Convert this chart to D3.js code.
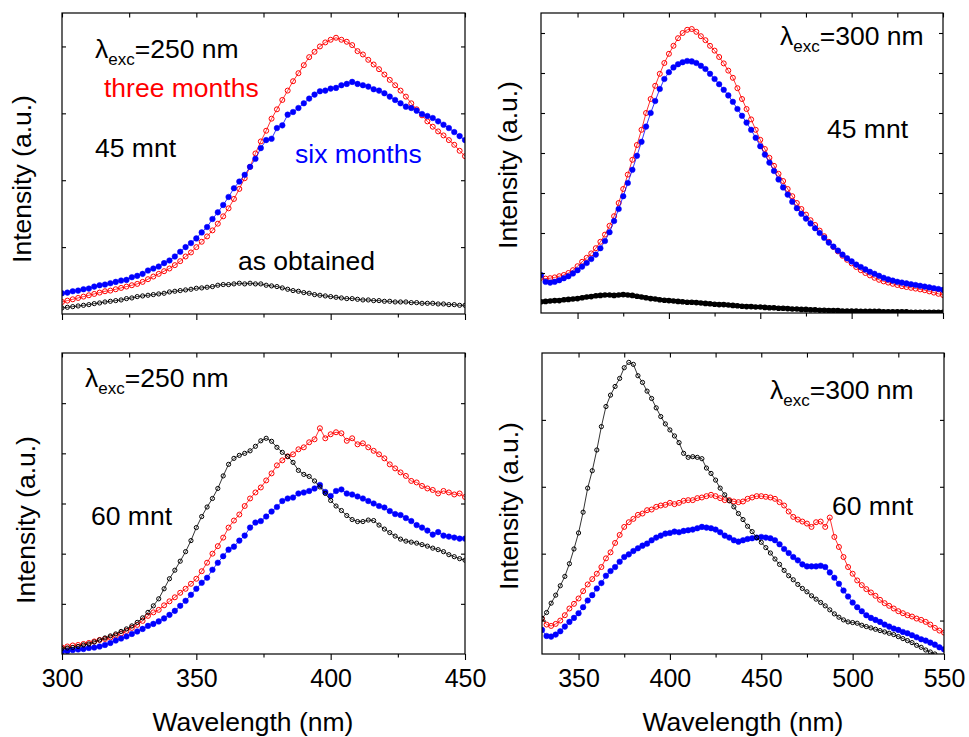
<!DOCTYPE html>
<html>
<head>
<meta charset="utf-8">
<script src="https://cdn.jsdelivr.net/npm/d3@7"></script>
<style>
  body { margin: 0; background: #fff; }
  svg { display: block; }
  text { font-family: "Liberation Sans", Arial, sans-serif; }
</style>
</head>
<body>
<svg id="chart" width="969" height="737"></svg>
<script>
// wavelength sampling of the spectra (nm)
const wlExc250 = d3.range(300, 450.01, 2)
const wlExc300 = d3.range(330, 550.01, 2.5)

// 45 min, λexc = 250 nm
const tl_obtained = [
  0.09,0.10,0.11,0.12,0.13,0.14,0.155,0.165,0.18,0.19,
  0.20,0.21,0.23,0.24,0.26,0.27,0.28,0.29,0.30,0.31,
  0.33,0.34,0.35,0.36,0.37,0.385,0.39,0.40,0.41,0.43,
  0.44,0.44,0.45,0.46,0.45,0.46,0.45,0.45,0.43,0.42,
  0.41,0.39,0.37,0.35,0.34,0.32,0.31,0.29,0.28,0.27,
  0.26,0.25,0.24,0.23,0.23,0.22,0.21,0.21,0.20,0.20,
  0.19,0.19,0.18,0.18,0.18,0.17,0.17,0.16,0.16,0.16,
  0.15,0.15,0.14,0.14,0.13,0.13]
const tl_three = [
  0.18,0.20,0.22,0.24,0.26,0.28,0.30,0.32,0.34,0.35,
  0.37,0.39,0.41,0.43,0.45,0.48,0.52,0.56,0.60,0.64,
  0.68,0.73,0.79,0.86,0.92,1.00,1.08,1.16,1.25,1.35,
  1.46,1.58,1.72,1.87,2.03,2.20,2.40,2.58,2.74,2.92,
  3.06,3.20,3.34,3.48,3.60,3.72,3.84,3.92,4.00,4.06,
  4.10,4.13,4.10,4.07,4.02,3.93,3.88,3.80,3.73,3.66,
  3.58,3.50,3.42,3.34,3.25,3.15,3.06,2.97,2.88,2.80,
  2.73,2.67,2.60,2.53,2.44,2.36]
const tl_six = [
  0.31,0.32,0.34,0.35,0.37,0.38,0.41,0.43,0.44,0.46,
  0.48,0.50,0.51,0.55,0.57,0.60,0.65,0.68,0.71,0.76,
  0.80,0.86,0.93,1.00,1.06,1.13,1.22,1.30,1.42,1.52,
  1.63,1.75,1.88,1.98,2.08,2.20,2.32,2.48,2.60,2.62,
  2.78,2.82,2.98,3.02,3.08,3.15,3.22,3.28,3.33,3.34,
  3.37,3.38,3.42,3.44,3.47,3.44,3.42,3.40,3.36,3.34,
  3.30,3.25,3.20,3.15,3.10,3.08,3.04,2.99,2.96,2.93,
  2.88,2.83,2.78,2.72,2.66,2.60]

// 45 min, λexc = 300 nm
const tr_obtained = [
  0.28,0.29,0.30,0.31,0.31,0.33,0.34,0.35,0.36,0.38,
  0.40,0.41,0.43,0.44,0.45,0.45,0.44,0.45,0.46,0.45,
  0.44,0.42,0.40,0.38,0.36,0.35,0.33,0.32,0.31,0.30,
  0.29,0.28,0.27,0.27,0.26,0.25,0.24,0.23,0.22,0.21,
  0.21,0.20,0.19,0.18,0.17,0.16,0.16,0.15,0.15,0.14,
  0.13,0.13,0.12,0.12,0.11,0.10,0.10,0.09,0.09,0.08,
  0.08,0.07,0.07,0.06,0.06,0.06,0.05,0.05,0.05,0.05,
  0.04,0.04,0.04,0.04,0.04,0.03,0.03,0.03,0.03,0.03,
  0.03,0.02,0.02,0.02,0.02,0.02,0.02,0.02,0.02]
const tr_three = [
  0.88,0.86,0.87,0.89,0.92,0.95,1.00,1.07,1.17,1.28,
  1.38,1.49,1.62,1.78,1.96,2.18,2.42,2.75,3.10,3.46,
  3.83,4.20,4.58,5.00,5.35,5.68,5.98,6.25,6.48,6.68,
  6.87,7.00,7.08,7.10,7.03,6.92,6.82,6.68,6.56,6.40,
  6.24,6.06,5.88,5.62,5.35,5.10,4.84,4.58,4.33,4.10,
  3.88,3.68,3.48,3.30,3.10,2.92,2.75,2.60,2.46,2.32,
  2.20,2.06,1.92,1.78,1.65,1.54,1.43,1.33,1.24,1.15,
  1.07,1.00,0.94,0.88,0.83,0.79,0.76,0.73,0.70,0.67,
  0.65,0.63,0.61,0.59,0.57,0.54,0.51,0.48,0.45]
const tr_six = [
  0.95,0.78,0.76,0.78,0.82,0.87,0.92,0.99,1.07,1.16,
  1.25,1.35,1.46,1.62,1.80,2.02,2.30,2.60,2.92,3.25,
  3.58,3.93,4.28,4.66,5.00,5.30,5.60,5.85,6.02,6.14,
  6.22,6.27,6.30,6.29,6.25,6.18,6.10,5.98,5.85,5.72,
  5.58,5.44,5.28,5.10,4.93,4.76,4.58,4.38,4.17,3.96,
  3.76,3.55,3.34,3.14,2.96,2.78,2.62,2.48,2.36,2.24,
  2.12,2.00,1.88,1.76,1.66,1.56,1.46,1.37,1.29,1.21,
  1.15,1.09,1.03,0.98,0.93,0.88,0.84,0.81,0.78,0.76,
  0.74,0.72,0.70,0.68,0.66,0.64,0.62,0.60,0.58]

// 60 min, λexc = 250 nm
const bl_obtained = [
  0.11,0.12,0.13,0.15,0.18,0.20,0.24,0.28,0.32,0.36,
  0.40,0.45,0.50,0.56,0.63,0.72,0.83,0.96,1.10,1.30,
  1.50,1.67,1.85,2.04,2.26,2.52,2.74,2.93,3.10,3.30,
  3.55,3.78,3.90,3.96,4.00,4.05,4.14,4.25,4.30,4.24,
  4.12,4.02,3.94,3.82,3.66,3.58,3.54,3.45,3.33,3.20,
  3.06,2.95,2.86,2.76,2.68,2.64,2.64,2.67,2.66,2.57,
  2.49,2.42,2.35,2.29,2.25,2.23,2.21,2.18,2.15,2.11,
  2.08,2.04,1.98,1.94,1.90,1.87]
const bl_three = [
  0.13,0.15,0.17,0.18,0.20,0.22,0.25,0.28,0.30,0.33,
  0.37,0.41,0.46,0.52,0.58,0.66,0.76,0.83,0.88,0.97,
  1.05,1.13,1.22,1.30,1.40,1.50,1.65,1.82,2.00,2.15,
  2.32,2.52,2.66,2.78,2.95,3.10,3.22,3.32,3.46,3.60,
  3.76,3.86,3.94,3.98,4.08,4.12,4.22,4.28,4.50,4.30,
  4.38,4.42,4.40,4.25,4.30,4.18,4.20,4.12,4.05,3.98,
  3.90,3.78,3.70,3.62,3.55,3.45,3.42,3.35,3.30,3.27,
  3.20,3.25,3.22,3.18,3.20,3.13]
const bl_six = [
  0.05,0.06,0.08,0.09,0.10,0.12,0.13,0.15,0.18,0.22,
  0.27,0.31,0.35,0.40,0.45,0.50,0.56,0.60,0.65,0.71,
  0.78,0.86,0.96,1.06,1.18,1.30,1.42,1.52,1.68,1.82,
  1.95,2.08,2.14,2.26,2.36,2.52,2.62,2.65,2.74,2.84,
  2.93,3.05,3.10,3.12,3.20,3.22,3.25,3.30,3.37,3.23,
  3.15,3.25,3.28,3.20,3.18,3.14,3.10,3.05,3.00,2.95,
  2.92,2.85,2.79,2.77,2.71,2.65,2.57,2.52,2.46,2.38,
  2.43,2.36,2.34,2.32,2.30,2.30]

// 60 min, λexc = 300 nm
const br_obtained = [
  0.03,0.12,0.26,0.38,0.52,0.66,0.85,1.07,1.31,1.62,
  1.98,2.24,2.55,2.90,3.20,3.37,3.50,3.62,3.78,3.86,
  3.83,3.66,3.56,3.43,3.32,3.18,3.05,2.94,2.85,2.76,
  2.66,2.50,2.44,2.45,2.44,2.42,2.28,2.20,2.10,1.98,
  1.88,1.79,1.70,1.60,1.51,1.41,1.33,1.24,1.17,1.09,
  1.01,0.92,0.84,0.75,0.67,0.61,0.54,0.48,0.43,0.37,
  0.32,0.27,0.22,0.16,0.10,0.05,0.01,-0.02,-0.03,-0.04,
  -0.07,-0.09,-0.11,-0.13,-0.15,-0.17,-0.19,-0.21,-0.24,-0.27,
  -0.30,-0.33,-0.37,-0.40,-0.44,-0.47,-0.50,-0.54,-0.58]
const br_three = [
  0.03,-0.06,-0.08,-0.05,0.00,0.08,0.18,0.25,0.33,0.44,
  0.54,0.62,0.70,0.80,0.93,1.02,1.16,1.28,1.40,1.47,
  1.52,1.58,1.60,1.65,1.66,1.70,1.72,1.73,1.76,1.74,
  1.76,1.79,1.80,1.80,1.83,1.84,1.86,1.88,1.86,1.83,
  1.80,1.80,1.78,1.77,1.78,1.82,1.84,1.86,1.86,1.85,
  1.84,1.82,1.77,1.72,1.63,1.55,1.51,1.48,1.45,1.40,
  1.47,1.48,1.40,1.54,1.25,1.10,0.95,0.80,0.70,0.60,
  0.53,0.47,0.42,0.37,0.31,0.26,0.22,0.18,0.14,0.11,
  0.08,0.06,0.03,0.01,-0.02,-0.06,-0.11,-0.15,-0.18]
const br_six = [
  -0.14,-0.23,-0.24,-0.21,-0.16,-0.09,-0.02,0.04,0.11,0.20,
  0.30,0.38,0.48,0.56,0.67,0.74,0.80,0.88,0.95,0.99,
  1.04,1.08,1.12,1.15,1.20,1.24,1.27,1.30,1.31,1.33,
  1.32,1.34,1.35,1.36,1.38,1.40,1.39,1.38,1.36,1.32,
  1.27,1.24,1.20,1.18,1.20,1.22,1.23,1.24,1.25,1.24,
  1.23,1.20,1.14,1.07,1.01,0.95,0.90,0.84,0.81,0.81,
  0.81,0.82,0.80,0.72,0.64,0.55,0.45,0.36,0.27,0.20,
  0.14,0.08,0.04,0.01,-0.02,-0.06,-0.09,-0.12,-0.14,-0.17,
  -0.19,-0.22,-0.25,-0.28,-0.30,-0.33,-0.36,-0.40,-0.43]

const xTicks250 = [300, 350, 400, 450]
const xMinor250 = [325, 375, 425]
const xTicks300 = [350, 400, 450, 500, 550]
const xMinor300 = [375, 425, 475, 525]

const RED = "#ff0000", BLUE = "#0000ff", BLACK = "#000000"
const FONT = 26.5

const svg = d3.select("#chart")
svg.append("rect").attr("width", 969).attr("height", 737).attr("fill", "#fff")

const styles = {
  obtained: { color: BLACK, r: 2.1, filled: false },
  three: { color: RED, r: 2.5, filled: false },
  six: { color: BLUE, r: 2.8, filled: true }
}

const panels = [
  {
    id: "tl", left: 62, right: 465, top: 13, bottom: 314,
    xDomain: [300, 450], yDomain: [0, 4.5], yTicks: [1, 2, 3, 4],
    major: xTicks250, minor: xMinor250, labels: false, wl: wlExc250,
    series: [["three", tl_three], ["six", tl_six], ["obtained", tl_obtained]],
    yTitle: { x: 31, y: 179 },
    lambda: { x: 95, y: 58, value: 250 },
    notes: [
      { text: "three months", x: 104, y: 97, color: RED },
      { text: "45 mnt", x: 95, y: 157, color: BLACK },
      { text: "six months", x: 295, y: 163, color: BLUE },
      { text: "as obtained", x: 238, y: 270, color: BLACK }
    ]
  },
  {
    id: "tr", left: 541, right: 943, top: 13, bottom: 313,
    xDomain: [330, 550], yDomain: [0, 7.5], yTicks: [1, 2, 3, 4, 5, 6, 7],
    major: xTicks300, minor: xMinor300, labels: false, wl: wlExc300,
    series: [["three", tr_three], ["six", tr_six], ["obtained", tr_obtained]],
    heavy: "obtained",
    yTitle: { x: 517, y: 165 },
    lambda: { x: 780, y: 45, value: 300 },
    notes: [{ text: "45 mnt", x: 827, y: 138, color: BLACK }]
  },
  {
    id: "bl", left: 62, right: 465, top: 353, bottom: 654,
    xDomain: [300, 450], yDomain: [0, 6], yTicks: [1, 2, 3, 4, 5],
    major: xTicks250, minor: xMinor250, labels: true, wl: wlExc250,
    series: [["three", bl_three], ["six", bl_six], ["obtained", bl_obtained]],
    yTitle: { x: 35, y: 520 },
    xTitle: { x: 253, y: 731 },
    lambda: { x: 85, y: 387, value: 250 },
    notes: [{ text: "60 mnt", x: 91, y: 525, color: BLACK }]
  },
  {
    id: "br", left: 542, right: 944, top: 353, bottom: 654,
    xDomain: [330, 550], yDomain: [-0.5, 4], yTicks: [0, 1, 2, 3],
    major: xTicks300, minor: xMinor300, labels: true, wl: wlExc300,
    series: [["three", br_three], ["six", br_six], ["obtained", br_obtained]],
    yTitle: { x: 518, y: 506 },
    xTitle: { x: 743, y: 731 },
    lambda: { x: 770, y: 399, value: 300 },
    notes: [{ text: "60 mnt", x: 832, y: 515, color: BLACK }]
  }
]

function styleAxis(g) {
  g.select(".domain").remove()
  g.selectAll("line").attr("stroke", "#000").attr("stroke-width", 1.1)
  g.selectAll("text").attr("fill", "#000").attr("font-size", 25)
    .attr("font-family", '"Liberation Sans", Arial, sans-serif')
}

function drawPanel(p) {
  const x = d3.scaleLinear().domain(p.xDomain).range([p.left, p.right])
  const y = d3.scaleLinear().domain(p.yDomain).range([p.bottom, p.top])
  const g = svg.append("g")

  svg.append("clipPath").attr("id", "clip-" + p.id)
    .append("rect")
    .attr("x", p.left).attr("y", p.top)
    .attr("width", p.right - p.left).attr("height", p.bottom - p.top)

  const plot = g.append("g").attr("clip-path", `url(#clip-${p.id})`)
  const line = d3.line().x((d, i) => x(p.wl[i])).y(d => y(d))

  p.series.forEach(([key, values]) => {
    const s = styles[key]
    const heavy = p.heavy === key
    plot.append("path")
      .datum(values)
      .attr("d", line)
      .attr("fill", "none")
      .attr("stroke", s.color)
      .attr("stroke-width", heavy ? 4 : 0.8)
    plot.append("g")
      .selectAll("circle")
      .data(values)
      .join("circle")
      .attr("cx", (d, i) => x(p.wl[i]))
      .attr("cy", d => y(d))
      .attr("r", s.r)
      .attr("fill", s.filled ? s.color : "none")
      .attr("stroke", s.color)
      .attr("stroke-width", s.filled ? 0.5 : (heavy ? 1.4 : 1))
  })

  // bottom axis: outward ticks
  g.append("g").attr("transform", `translate(0,${p.bottom})`)
    .call(d3.axisBottom(x).tickValues(p.major).tickSizeInner(6).tickSizeOuter(0).tickPadding(9)
      .tickFormat(p.labels ? d3.format("d") : () => ""))
    .call(styleAxis)
  g.append("g").attr("transform", `translate(0,${p.bottom})`)
    .call(d3.axisBottom(x).tickValues(p.minor).tickSize(3.5).tickFormat(() => ""))
    .call(styleAxis)

  // top axis: inward ticks
  g.append("g").attr("transform", `translate(0,${p.top})`)
    .call(d3.axisBottom(x).tickValues(p.major.concat(p.minor)).tickSize(4.5).tickFormat(() => ""))
    .call(styleAxis)

  // left / right axes: inward ticks, no labels
  g.append("g").attr("transform", `translate(${p.left},0)`)
    .call(d3.axisRight(y).tickValues(p.yTicks).tickSize(4).tickFormat(() => ""))
    .call(styleAxis)
  g.append("g").attr("transform", `translate(${p.right},0)`)
    .call(d3.axisLeft(y).tickValues(p.yTicks).tickSize(4).tickFormat(() => ""))
    .call(styleAxis)

  g.append("rect")
    .attr("x", p.left).attr("y", p.top)
    .attr("width", p.right - p.left).attr("height", p.bottom - p.top)
    .attr("fill", "none").attr("stroke", "#000").attr("stroke-width", 1.2)

  // axis titles
  g.append("text")
    .attr("transform", `translate(${p.yTitle.x},${p.yTitle.y}) rotate(-90)`)
    .attr("text-anchor", "middle")
    .attr("font-size", FONT)
    .text("Intensity (a.u.)")
  if (p.xTitle) {
    g.append("text")
      .attr("x", p.xTitle.x).attr("y", p.xTitle.y)
      .attr("text-anchor", "middle")
      .attr("font-size", FONT)
      .text("Wavelength (nm)")
  }

  // λexc label
  const t = g.append("text")
    .attr("x", p.lambda.x).attr("y", p.lambda.y)
    .attr("font-size", FONT)
  t.append("tspan").text("λ")
  t.append("tspan").attr("font-size", 17).attr("dy", 7).text("exc")
  t.append("tspan").attr("dy", -7).text(`=${p.lambda.value} nm`)

  p.notes.forEach(n => {
    g.append("text")
      .attr("x", n.x).attr("y", n.y)
      .attr("font-size", FONT)
      .attr("fill", n.color)
      .text(n.text)
  })
}

panels.forEach(drawPanel)
</script>
</body>
</html>
